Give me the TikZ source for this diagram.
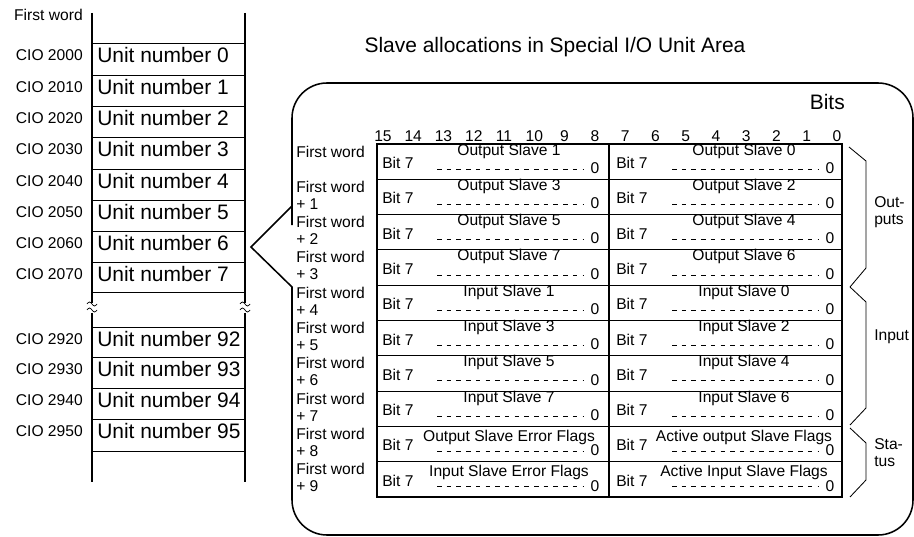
\documentclass[tikz,border=0pt]{standalone}
\usepackage{fontspec}
\setmainfont{Liberation Sans}
\usepackage{tikz}
\usetikzlibrary{positioning}
\newcommand\smallfont{\fontsize{11.1}{12}\selectfont}
\newcommand\bigfont{\fontsize{14.9}{17}\selectfont}
\tikzset{
  lbl/.style={font=\smallfont, inner sep=0pt},
  biglbl/.style={font=\bigfont, inner sep=0pt},
  wall/.style={line width=0.9pt},
  sep/.style={line width=0.6pt},
  dashrule/.style={line width=0.5pt, dash pattern=on 3.2pt off 3.7pt},
  brace/.style={line width=0.6pt}
}
\begin{document}
\begin{tikzpicture}[x=0.025cm, y=-0.025cm]
    \useasboundingbox (0,0) rectangle (914,537);

    % --- Coluna esquerda: Special I/O Unit Area ---
    \node[lbl, anchor=east] (first) at (83,15) {First word};
    \draw[wall] (92,13) -- (92,303);
    \draw[wall] (92,313) -- (92,482);
    \draw[wall] (245,13) -- (245,303);
    \draw[wall] (245,313) -- (245,482);
    \foreach \y in {43,75,106,137,169,200,231,262,292,327,357,388,419,451} {
      \draw[sep] (92,\y) -- (245,\y);
    }
    % quebra (marcas ~)
    \foreach \x in {92,245} {
      \foreach \y in {304,310} {
        \draw[line width=0.5pt] (\x-5,\y) sin (\x-2.5,\y-2) cos (\x,\y) sin (\x+2.5,\y+2) cos (\x+5,\y);
      }
    }
    \foreach \t/\cio/\u [count=\i] in {43/2000/0, 75/2010/1, 106/2020/2,
        137/2030/3, 169/2040/4, 200/2050/5, 231/2060/6, 262/2070/7,
        327/2920/92, 357/2930/93, 388/2940/94, 419/2950/95} {
      \node[lbl, anchor=east] (cio\i) at (83,\t+12) {CIO \cio};
      \node[biglbl, anchor=west] (unit\i) at (97,\t+12) {Unit number \u};
    }

    % --- Balao (callout) ---
    \node[biglbl] (title) at (555,47) {Slave allocations in Special I/O Unit Area};
    \draw[line width=1.1pt] (292,206) -- (251,247) -- (292,287) -- (292,300)
      [rounded corners=0.875cm] -- (292,535) -- (913,535) -- (913,83) -- (292,83)
      -- (292,190) [sharp corners] -- cycle;
    \node[biglbl, anchor=east] (bits) at (845,102) {Bits};

    % --- Numeros dos bits ---
    \foreach \b in {0,...,15} {
      \node[lbl] (bit\b) at (837-30.27*\b,136) {\b};
    }

    % --- Tabela ---
    \draw[wall] (377,144) rectangle (842,497);
    \draw[wall] (609,144) -- (609,497);
    \foreach \i in {1,...,9} {
      \draw[sep] (377,144+35.3*\i) -- (842,144+35.3*\i);
    }
    \foreach \lt/\rt/\dy [count=\i from 0] in {
        Output Slave 1/Output Slave 0/7,
        Output Slave 3/Output Slave 2/7,
        Output Slave 5/Output Slave 4/7,
        Output Slave 7/Output Slave 6/7,
        Input Slave 1/Input Slave 0/7,
        Input Slave 3/Input Slave 2/7,
        Input Slave 5/Input Slave 4/7,
        Input Slave 7/Input Slave 6/7,
        Output Slave Error Flags/Active output Slave Flags/11,
        Input Slave Error Flags/Active Input Slave Flags/11} {
      \pgfmathsetmacro\t{144+35.3*\i}
      \node[lbl, anchor=north west, align=left] (word\i) at (296,\t+1.5)
        {First word\ifnum\i>0\\+ \i\fi};
      % metade esquerda (bits 15-8)
      \node[lbl, anchor=west] (lb\i) at (382,\t+19) {Bit 7};
      \node[lbl] (lt\i) at (509,\t+\dy) {\lt};
      \draw[dashrule] (437,\t+25) -- (583,\t+25);
      \node[lbl] (lz\i) at (595,\t+24) {0};
      % metade direita (bits 7-0)
      \node[lbl, anchor=west] (rb\i) at (616,\t+19) {Bit 7};
      \node[lbl] (rt\i) at (744,\t+\dy) {\rt};
      \draw[dashrule] (672,\t+25) -- (818,\t+25);
      \node[lbl] (rz\i) at (830,\t+24) {0};
    }

    % --- Chaves a direita ---
    \draw[brace] (849,147) -- (866,161) -- (866,268) -- (850,287);
    \draw[brace] (850,287) -- (866,302) -- (866,408) -- (850,425);
    \draw[brace] (850,428) -- (866,443) -- (866,480) -- (850,497);
    \node[lbl, anchor=west, align=left] (outs) at (874,212) {Out-\\puts};
    \node[lbl, anchor=west] (ins) at (874,337) {Input};
    \node[lbl, anchor=west, align=left] (stat) at (874,453) {Sta-\\tus};
\end{tikzpicture}
\end{document}
